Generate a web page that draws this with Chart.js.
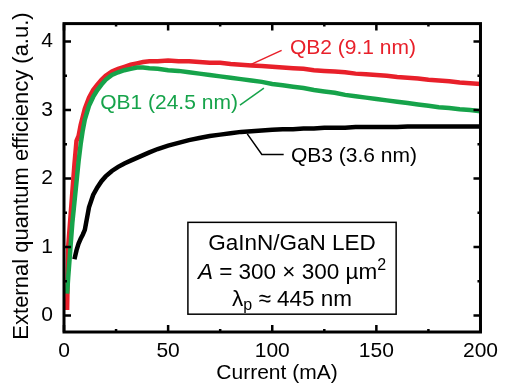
<!DOCTYPE html>
<html>
<head>
<meta charset="utf-8">
<script src="https://cdn.jsdelivr.net/npm/chart.js@4.4.0/dist/chart.umd.min.js"></script>
<style>
html,body{margin:0;padding:0;background:#fff;}
#wrap{width:505px;height:384px;}
</style>
</head>
<body>
<div id="wrap"><canvas id="eqe" width="505" height="384"></canvas></div>
<script>
// drive current (mA)
var currents = [1.5, 2, 3, 4, 5, 6, 7, 8, 9, 10, 12, 14, 16, 18, 20, 23, 26, 29, 32, 35, 38, 41, 45, 50, 55, 60, 65, 70, 75, 80, 85, 90, 95, 100, 105, 110, 115, 120, 125, 130, 135, 140, 145, 150, 155, 160, 165, 170, 175, 180, 185, 190, 195, 200]
// EQE (a.u.)
var qb2 = [0.08, 1.0, 1.4, 1.8, 2.2, 2.55, 2.62, 2.78, 2.9, 3.02, 3.18, 3.29, 3.37, 3.44, 3.5, 3.56, 3.6, 3.63, 3.66, 3.68, 3.7, 3.71, 3.71, 3.72, 3.71, 3.71, 3.7, 3.69, 3.69, 3.67, 3.66, 3.65, 3.64, 3.63, 3.62, 3.61, 3.6, 3.58, 3.57, 3.56, 3.55, 3.53, 3.52, 3.51, 3.5, 3.48, 3.47, 3.46, 3.44, 3.43, 3.42, 3.4, 3.39, 3.38]
var qb1 = [0.32, 0.55, 0.95, 1.35, 1.65, 1.95, 2.25, 2.5, 2.7, 2.86, 3.06, 3.19, 3.29, 3.37, 3.44, 3.51, 3.55, 3.58, 3.6, 3.62, 3.62, 3.61, 3.6, 3.58, 3.57, 3.55, 3.53, 3.51, 3.49, 3.47, 3.45, 3.43, 3.41, 3.38, 3.36, 3.34, 3.32, 3.29, 3.27, 3.25, 3.22, 3.2, 3.18, 3.16, 3.14, 3.12, 3.1, 3.08, 3.06, 3.04, 3.03, 3.01, 3.0, 2.98]
var qb3 = [null, null, null, null, 0.82, 0.95, 1.05, 1.12, 1.18, 1.25, 1.58, 1.76, 1.87, 1.96, 2.03, 2.11, 2.17, 2.22, 2.26, 2.3, 2.34, 2.38, 2.43, 2.48, 2.52, 2.56, 2.59, 2.62, 2.64, 2.66, 2.68, 2.69, 2.7, 2.71, 2.72, 2.72, 2.73, 2.73, 2.74, 2.74, 2.74, 2.75, 2.75, 2.75, 2.75, 2.75, 2.76, 2.76, 2.76, 2.76, 2.76, 2.76, 2.76, 2.76]
var seriesNames = ['QB2 (9.1 nm)', 'QB1 (24.5 nm)', 'QB3 (3.6 nm)']
var seriesColors = ['#e8202a', '#16a34a', '#000000']
var xTicks = [0, 50, 100, 150, 200]
var yTicks = [0, 1, 2, 3, 4]

var FONT = "'Liberation Sans', Arial, sans-serif"

function pts(vals){
    return currents.map(function(c, i){ return {x: c, y: vals[i]} })
}

// labels with leader lines, in data units
var callouts = [
    {text: seriesNames[0], color: seriesColors[0], line: [[88, 3.64], [104.5, 3.87]], tx: 108.5, ty: 3.9, align: 'left'},
    {text: seriesNames[1], color: seriesColors[1], line: [[96, 3.32], [84.5, 3.07]], tx: 83.5, ty: 3.1, align: 'right'},
    {text: seriesNames[2], color: seriesColors[2], line: [[88, 2.65], [95, 2.35], [105.5, 2.35]], tx: 109, ty: 2.32, align: 'left'}
]

var decor = {
    id: 'decor',
    afterDatasetsDraw: function(chart){
        var c = chart.ctx, a = chart.chartArea
        var xs = chart.scales.x, ys = chart.scales.y
        c.save()
        c.strokeStyle = '#000'
        c.lineWidth = 3
        c.strokeRect(a.left, a.top, a.right - a.left, a.bottom - a.top)
        c.lineWidth = 2.5
        for (var v = 0; v <= 200; v += 25) {
            var len = (v % 50 == 0) ? 7 : 3
            var px = xs.getPixelForValue(v)
            c.beginPath()
            c.moveTo(px, a.bottom); c.lineTo(px, a.bottom - len)
            c.moveTo(px, a.top); c.lineTo(px, a.top + len)
            c.stroke()
        }
        for (var w = 0; w <= 4; w += 0.5) {
            var l2 = (w % 1 == 0) ? 7 : 3
            var py = ys.getPixelForValue(w)
            c.beginPath()
            c.moveTo(a.left, py); c.lineTo(a.left + l2, py)
            c.moveTo(a.right, py); c.lineTo(a.right - l2, py)
            c.stroke()
        }

        // callouts
        c.font = '21px ' + FONT
        c.textBaseline = 'middle'
        callouts.forEach(function(k){
            c.strokeStyle = k.color
            c.lineWidth = 1.5
            c.beginPath()
            k.line.forEach(function(p, i){
                var X = xs.getPixelForValue(p[0]), Y = ys.getPixelForValue(p[1])
                if (i == 0) c.moveTo(X, Y); else c.lineTo(X, Y)
            })
            c.stroke()
            c.fillStyle = k.color
            c.textAlign = k.align
            c.fillText(k.text, xs.getPixelForValue(k.tx), ys.getPixelForValue(k.ty))
        })

        // info box
        var bl = xs.getPixelForValue(59.5), br = xs.getPixelForValue(159.5)
        var bt = ys.getPixelForValue(1.36), bb = ys.getPixelForValue(0.02)
        c.fillStyle = '#fff'
        c.fillRect(bl, bt, br - bl, bb - bt)
        c.strokeStyle = '#000'
        c.lineWidth = 1.5
        c.strokeRect(bl, bt, br - bl, bb - bt)
        var cx = (bl + br) / 2
        c.fillStyle = '#000'
        c.textAlign = 'center'
        c.font = '22.5px ' + FONT
        c.fillText('GaInN/GaN LED', cx, bt + 21)

        // line 2: A = 300 × 300 µm²
        var y2 = bt + 50
        var pA = 'A', pMid = ' = 300 \u00d7 300 \u00b5m', pSup = '2'
        c.font = 'italic 22.5px ' + FONT
        var wA = c.measureText(pA).width
        c.font = '22.5px ' + FONT
        var wMid = c.measureText(pMid).width
        c.font = '16px ' + FONT
        var wSup = c.measureText(pSup).width
        var x0 = cx - (wA + wMid + wSup) / 2
        c.textAlign = 'left'
        c.font = 'italic 22.5px ' + FONT
        c.fillText(pA, x0, y2)
        c.font = '22.5px ' + FONT
        c.fillText(pMid, x0 + wA, y2)
        c.font = '16px ' + FONT
        c.fillText(pSup, x0 + wA + wMid, y2 - 7)

        // line 3: λp ≈ 445 nm
        var y3 = bt + 77
        c.font = '22.5px ' + FONT
        var wL = c.measureText('\u03bb').width
        var wT = c.measureText(' \u2248 445 nm').width
        c.font = '16px ' + FONT
        var wP = c.measureText('p').width
        x0 = cx - (wL + wP + wT) / 2
        c.font = '22.5px ' + FONT
        c.fillText('\u03bb', x0, y3)
        c.font = '16px ' + FONT
        c.fillText('p', x0 + wL, y3 + 6)
        c.font = '22.5px ' + FONT
        c.fillText(' \u2248 445 nm', x0 + wL + wP, y3)

        // axis titles
        c.textAlign = 'center'
        c.font = '21px ' + FONT
        c.fillText('Current (mA)', 277, 373)
        c.font = '22px ' + FONT
        c.translate(22, 176)
        c.rotate(-Math.PI / 2)
        c.fillText('External quantum efficiency (a.u.)', 0, 0)
        c.restore()
    }
}

var ctx = document.getElementById('eqe').getContext('2d')
var myChart = new Chart(ctx, {
    type: 'line',
    data: {
        datasets: [
            {label: seriesNames[1], data: pts(qb1), borderColor: seriesColors[1], order: 1},
            {label: seriesNames[0], data: pts(qb2), borderColor: seriesColors[0], order: 2},
            {label: seriesNames[2], data: pts(qb3), borderColor: seriesColors[2], order: 0}
        ]
    },
    options: {
        responsive: false,
        animation: false,
        events: [],
        datasets: {
            line: {borderWidth: 4.5, pointRadius: 0, tension: 0, fill: false, spanGaps: false}
        },
        layout: {padding: {left: 0, top: 20, right: 18, bottom: 0}},
        scales: {
            x: {
                type: 'linear',
                min: 0, max: 200,
                grid: {display: false, drawTicks: false},
                border: {display: false},
                afterBuildTicks: function(s){ s.ticks = xTicks.map(function(v){ return {value: v} }) },
                afterFit: function(s){ s.height = 52 },
                ticks: {color: '#000', padding: 7, maxRotation: 0, font: {family: FONT, size: 21}}
            },
            y: {
                type: 'linear',
                min: -0.24, max: 4.26,
                grid: {display: false, drawTicks: false},
                border: {display: false},
                afterBuildTicks: function(s){ s.ticks = yTicks.map(function(v){ return {value: v} }) },
                afterFit: function(s){ s.width = 64 },
                ticks: {color: '#000', padding: 11, font: {family: FONT, size: 21}}
            }
        },
        plugins: {
            legend: {display: false},
            tooltip: {enabled: false}
        }
    },
    plugins: [decor]
})
</script>
</body>
</html>
